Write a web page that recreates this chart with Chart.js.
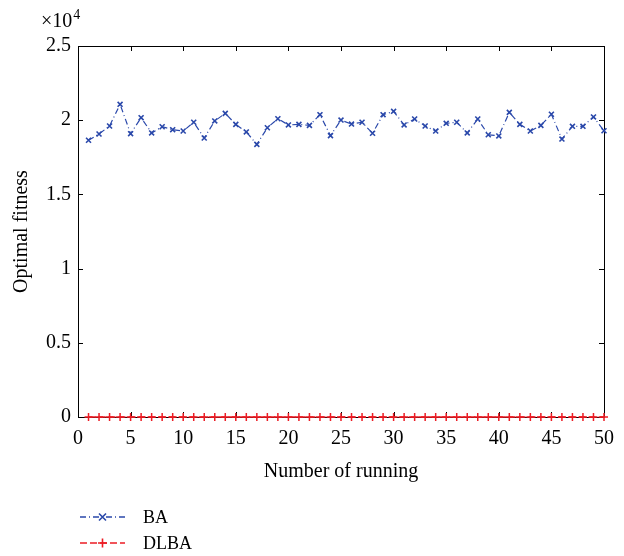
<!DOCTYPE html>
<html>
<head>
<meta charset="utf-8">
<script src="https://cdn.jsdelivr.net/npm/chart.js@4"></script>
<style>
  html, body { margin: 0; padding: 0; background: #fff; }
  #wrap { width: 624px; height: 556px; }
</style>
</head>
<body>
<div id="wrap"><canvas id="fitnessChart" width="624" height="556"></canvas></div>
<script>
// runs 1..50
const runs = Array.from({ length: 50 }, (_, i) => i + 1);

// BA optimal fitness per run
const baValues = [
    18650, 19070, 19610, 21070, 19090, 20170, 19140, 19560, 19360, 19270,
    19860, 18800, 19950, 20460, 19720, 19210, 18370, 19490, 20100, 19680,
    19720, 19650, 20370, 18960, 20010, 19740, 19860, 19120, 20370, 20600,
    19680, 20080, 19610, 19270, 19790, 19860, 19140, 20080, 19020, 18940,
    20530, 19720, 19270, 19650, 20400, 18730, 19590, 19590, 20220, 19290
];

// DLBA optimal fitness per run (sits on zero at this scale)
const dlbaValues = [
    0, 0, 0, 0, 0, 0, 0, 0, 0, 0,
    0, 0, 0, 0, 0, 0, 0, 0, 0, 0,
    0, 0, 0, 0, 0, 0, 0, 0, 0, 0,
    0, 0, 0, 0, 0, 0, 0, 0, 0, 0,
    0, 0, 0, 0, 0, 0, 0, 0, 0, 0
];

const yTicks = [0, 5000, 10000, 15000, 20000, 25000];
const xTicks = [0, 5, 10, 15, 20, 25, 30, 35, 40, 45, 50];

const serif = '"Liberation Serif", "DejaVu Serif", serif';
const blue = 'rgb(42, 72, 170)';
const red = 'rgb(236, 28, 36)';

// box around the axes with inward ticks on all sides (matlab style)
const boxPlugin = {
    id: 'boxPlugin',
    beforeDatasetsDraw(chart) {
        const { ctx, chartArea: a, scales } = chart;
        const len = 5;
        ctx.save();
        ctx.strokeStyle = '#000';
        ctx.lineWidth = 1;
        ctx.strokeRect(a.left + 0.5, a.top + 0.5, a.right - a.left, a.bottom - a.top);
        ctx.beginPath();
        xTicks.forEach(v => {
            const x = Math.round(scales.x.getPixelForValue(v)) + 0.5;
            ctx.moveTo(x, a.bottom); ctx.lineTo(x, a.bottom - len);
            ctx.moveTo(x, a.top); ctx.lineTo(x, a.top + len);
        });
        yTicks.forEach(v => {
            const y = Math.round(scales.y.getPixelForValue(v)) + 0.5;
            ctx.moveTo(a.left, y); ctx.lineTo(a.left + len, y);
            ctx.moveTo(a.right, y); ctx.lineTo(a.right - len, y);
        });
        ctx.stroke();
        ctx.restore();
    },
    afterDraw(chart) {
        const { ctx } = chart;
        ctx.save();
        ctx.fillStyle = '#000';
        // exponent label above the y axis
        ctx.font = '20px ' + serif;
        ctx.textBaseline = 'alphabetic';
        ctx.textAlign = 'left';
        ctx.fillText('\u00d710', 41, 27);
        const w = ctx.measureText('\u00d710').width;
        ctx.font = '14px ' + serif;
        ctx.fillText('4', 41 + w + 1, 19);

        // legend under the plot
        const items = chart.data.datasets;
        items.forEach((ds, i) => {
            const y = 517 + i * 26;
            const x0 = 80, x1 = 125;
            ctx.strokeStyle = ds.borderColor;
            ctx.lineWidth = 1.3;
            ctx.setLineDash(ds.borderDash);
            ctx.beginPath();
            ctx.moveTo(x0, y); ctx.lineTo(x1, y);
            ctx.stroke();
            ctx.setLineDash([]);
            // marker
            const cx = (x0 + x1) / 2, r = 3.5;
            ctx.beginPath();
            if (ds.pointStyle === 'crossRot') {
                ctx.moveTo(cx - r, y - r); ctx.lineTo(cx + r, y + r);
                ctx.moveTo(cx - r, y + r); ctx.lineTo(cx + r, y - r);
            } else {
                ctx.moveTo(cx - r - 1, y); ctx.lineTo(cx + r + 1, y);
                ctx.moveTo(cx, y - r - 1); ctx.lineTo(cx, y + r + 1);
            }
            ctx.lineWidth = 1.6;
            ctx.stroke();
            ctx.fillStyle = '#000';
            ctx.font = '18px ' + serif;
            ctx.textBaseline = 'middle';
            ctx.fillText(ds.label, 143, y + 1);
        });
        ctx.restore();
    }
};

const ctx = document.getElementById('fitnessChart').getContext('2d');
new Chart(ctx, {
    type: 'line',
    data: {
        datasets: [
            {
                label: 'BA',
                data: runs.map((r, i) => ({ x: r, y: baValues[i] })),
                borderColor: blue,
                backgroundColor: blue,
                borderWidth: 1.2,
                borderDash: [6, 3, 1, 3],
                pointStyle: 'crossRot',
                pointRadius: 3.5,
                pointBorderWidth: 1.6,
                fill: false,
                tension: 0,
                clip: false
            },
            {
                label: 'DLBA',
                data: runs.map((r, i) => ({ x: r, y: dlbaValues[i] })),
                borderColor: red,
                backgroundColor: red,
                borderWidth: 1.6,
                borderDash: [7, 3],
                pointStyle: 'cross',
                pointRadius: 4,
                pointBorderWidth: 1.5,
                fill: false,
                tension: 0,
                clip: false
            }
        ]
    },
    options: {
        responsive: false,
        animation: false,
        layout: { padding: { left: 0, right: 19, top: 46, bottom: 69 } },
        plugins: {
            legend: { display: false },
            tooltip: { enabled: false }
        },
        scales: {
            x: {
                type: 'linear',
                min: 0,
                max: 50,
                afterBuildTicks: scale => { scale.ticks = xTicks.map(v => ({ value: v })); },
                grid: { display: false, drawTicks: false },
                border: { display: false },
                ticks: { color: '#000', font: { family: serif, size: 20 }, padding: 10, maxRotation: 0 },
                title: {
                    display: true,
                    text: 'Number of running',
                    color: '#000',
                    font: { family: serif, size: 20 },
                    padding: { top: 0, bottom: 3 }
                },
                afterFit: scale => { scale.height = 70; }
            },
            y: {
                type: 'linear',
                min: 0,
                max: 25000,
                afterBuildTicks: scale => { scale.ticks = yTicks.map(v => ({ value: v })); },
                grid: { display: false, drawTicks: false },
                border: { display: false },
                ticks: {
                    color: '#000',
                    font: { family: serif, size: 20 },
                    padding: 7,
                    callback: v => String(v / 10000)
                },
                title: {
                    display: true,
                    text: 'Optimal fitness',
                    color: '#000',
                    font: { family: serif, size: 20 },
                    padding: { top: 10, bottom: 0 }
                },
                afterFit: scale => { scale.width = 78; }
            }
        }
    },
    plugins: [boxPlugin]
});
</script>
</body>
</html>
